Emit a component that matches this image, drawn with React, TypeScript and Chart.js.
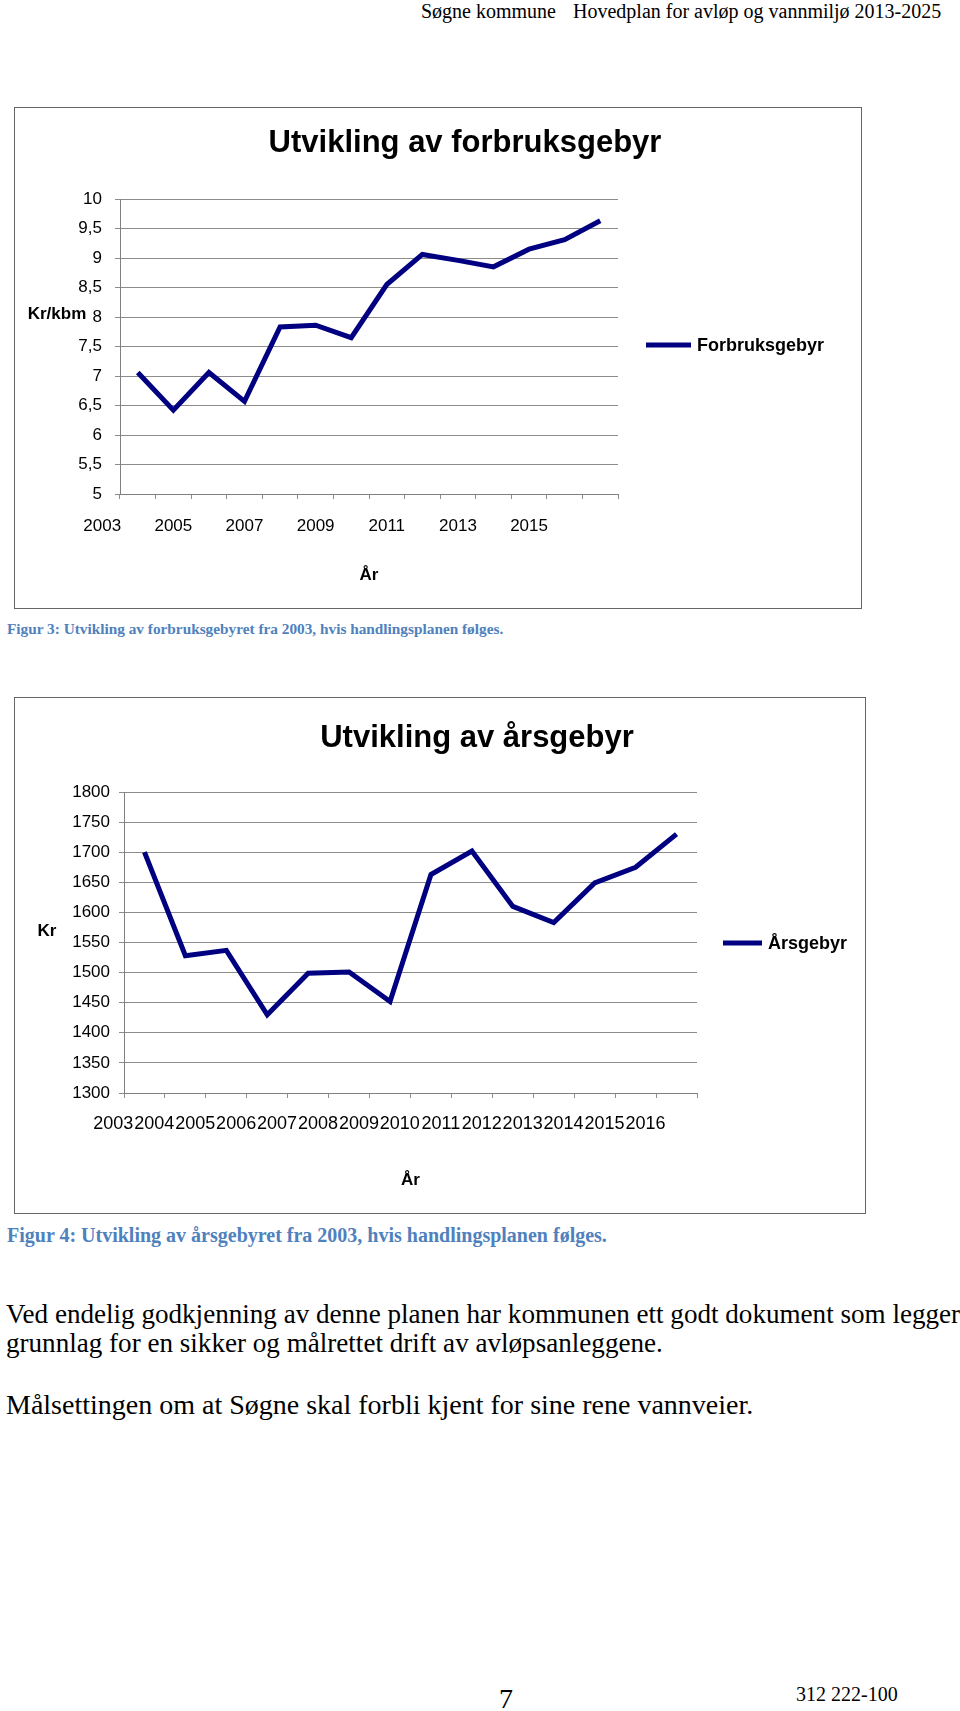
import React, { useEffect, useRef } from 'react';
import { Chart, registerables } from 'chart.js';

Chart.register(...registerables);

// ---------- data ----------
const YEARS = ['2003', '2004', '2005', '2006', '2007', '2008', '2009', '2010', '2011', '2012', '2013', '2014', '2015', '2016'];
const FORBRUKSGEBYR = [7.06, 6.42, 7.06, 6.57, 7.83, 7.86, 7.65, 8.55, 9.06, 8.96, 8.85, 9.15, 9.31, 9.63];
const AARSGEBYR = [1700, 1528, 1537, 1430, 1499, 1501, 1452, 1663, 1702, 1610, 1583, 1649, 1675, 1730];
const X_TICKS_1 = ['2003', '2005', '2007', '2009', '2011', '2013', '2015'];
const X_TICKS_2 = YEARS;
const Y_RANGE_1 = { min: 5, max: 10, step: 0.5 };
const Y_RANGE_2 = { min: 1300, max: 1800, step: 50 };

// ---------- styles ----------
const SANS = "'Liberation Sans', Arial, Helvetica, sans-serif";
const SERIF = "'Liberation Serif', 'Times New Roman', Times, serif";
const LINE_COLOR = '#000080';
const GRID_COLOR = '#8c8c8c';
const AXIS_COLOR = '#808080';
const CAPTION_COLOR = '#4F81BD';

type Geo = {
  boxLeft: number; boxTop: number; boxW: number; boxH: number;
  yWidth: number; padRight: number; padTop: number; xHeight: number; yTickPad: number;
  title: string; titleX: number; titleY: number;
  yTitle: string; yTitleX: number; yTitleY: number;
  xTitle: string; xTitleY: number;
  xTicks: string[]; xTickY: number; xShift: number; xTickSize: number;
  legX1: number; legX2: number; legY: number; legTextX: number;
  label: string; values: number[]; yr: { min: number; max: number; step: number };
};

const G1: Geo = {
  boxLeft: 14, boxTop: 107, boxW: 848, boxH: 502,
  yWidth: 105, padRight: 243, padTop: 91, xHeight: 114, yTickPad: 13,
  title: 'Utvikling av forbruksgebyr', titleX: 450, titleY: 44,
  yTitle: 'Kr/kbm', yTitleX: 42, yTitleY: 206,
  xTitle: 'År', xTitleY: 467,
  xTicks: X_TICKS_1, xTickY: 418, xShift: -1, xTickSize: 17,
  legX1: 631, legX2: 676, legY: 237, legTextX: 682,
  label: 'Forbruksgebyr', values: FORBRUKSGEBYR, yr: Y_RANGE_1,
};

const G2: Geo = {
  boxLeft: 14, boxTop: 697, boxW: 852, boxH: 517,
  yWidth: 109, padRight: 168, padTop: 94, xHeight: 120, yTickPad: 9,
  title: 'Utvikling av årsgebyr', titleX: 462, titleY: 49,
  yTitle: 'Kr', yTitleX: 32, yTitleY: 233,
  xTitle: 'År', xTitleY: 482,
  xTicks: X_TICKS_2, xTickY: 426, xShift: -0.76, xTickSize: 18,
  legX1: 708, legX2: 747, legY: 245, legTextX: 753,
  label: 'Årsgebyr', values: AARSGEBYR, yr: Y_RANGE_2,
};

function overlayPlugin(g: Geo) {
  return {
    id: 'overlay',
    afterDraw(chart: any) {
      const ctx = chart.ctx as CanvasRenderingContext2D;
      const xs = chart.scales.x;
      const area = chart.chartArea;
      ctx.save();
      ctx.fillStyle = '#000';
      // title
      ctx.font = `bold 31px ${SANS}`;
      ctx.textAlign = 'center';
      ctx.textBaseline = 'alphabetic';
      ctx.fillText(g.title, g.titleX, g.titleY);
      // x tick labels
      ctx.font = `${g.xTickSize}px ${SANS}`;
      ctx.textBaseline = 'middle';
      g.xTicks.forEach((t) => {
        const i = chart.data.labels.indexOf(t);
        ctx.fillText(t, xs.getPixelForValue(i + g.xShift), g.xTickY);
      });
      // axis titles
      ctx.font = `bold 17px ${SANS}`;
      ctx.fillText(g.xTitle, (area.left + area.right) / 2, g.xTitleY);
      ctx.fillText(g.yTitle, g.yTitleX, g.yTitleY);
      // legend
      const ds = chart.data.datasets[0];
      ctx.strokeStyle = ds.borderColor;
      ctx.lineWidth = 5;
      ctx.beginPath();
      ctx.moveTo(g.legX1, g.legY);
      ctx.lineTo(g.legX2, g.legY);
      ctx.stroke();
      ctx.font = `bold 18px ${SANS}`;
      ctx.textAlign = 'left';
      ctx.fillText(ds.label, g.legTextX, g.legY + 1);
      ctx.restore();
    },
  };
}

function LineChartBox({ g }: { g: Geo }) {
  const ref = useRef<HTMLCanvasElement>(null);
  const cw = g.boxW - 2;
  const ch = g.boxH - 2;
  useEffect(() => {
    if (!ref.current) return;
    const chart = new Chart(ref.current, {
      type: 'line',
      data: {
        labels: YEARS,
        datasets: [
          {
            label: g.label,
            data: g.values,
            borderColor: LINE_COLOR,
            backgroundColor: LINE_COLOR,
            borderWidth: 5,
            pointRadius: 0,
            pointHoverRadius: 0,
            tension: 0,
            fill: false,
          },
        ],
      },
      options: {
        animation: false,
        responsive: false,
        maintainAspectRatio: false,
        devicePixelRatio: 1,
        events: [],
        layout: { padding: { left: 0, right: g.padRight, top: g.padTop, bottom: 0 } },
        plugins: { legend: { display: false }, title: { display: false }, tooltip: { enabled: false } },
        scales: {
          x: {
            type: 'category',
            offset: true,
            grid: {
              display: true,
              drawOnChartArea: false,
              drawTicks: true,
              tickLength: 5,
              offset: true,
              color: GRID_COLOR,
            },
            border: { display: true, color: AXIS_COLOR },
            ticks: { display: false },
            afterFit: (s: any) => {
              s.height = g.xHeight;
            },
          },
          y: {
            min: g.yr.min,
            max: g.yr.max,
            ticks: {
              stepSize: g.yr.step,
              color: '#000',
              padding: g.yTickPad,
              font: { family: SANS, size: 17 },
              callback: (v: any) => String(v).replace('.', ','),
            },
            grid: { color: GRID_COLOR, tickLength: 5, drawTicks: true },
            border: { display: true, color: AXIS_COLOR },
            afterFit: (s: any) => {
              s.width = g.yWidth;
            },
          },
        },
      },
      plugins: [overlayPlugin(g)],
    } as any);
    return () => chart.destroy();
  }, [g]);
  return (
    <div
      style={{
        position: 'absolute',
        left: g.boxLeft,
        top: g.boxTop,
        width: g.boxW,
        height: g.boxH,
        boxSizing: 'border-box',
        border: '1px solid #666',
        background: '#fff',
      }}
    >
      <canvas ref={ref} width={cw} height={ch} style={{ display: 'block', width: cw, height: ch }} />
    </div>
  );
}

function T({
  x, baseline, size, text, bold, color,
}: { x: number; baseline: number; size: number; text: string; bold?: boolean; color?: string }) {
  return (
    <div
      style={{
        position: 'absolute',
        left: x,
        top: baseline - 0.891 * size,
        fontFamily: SERIF,
        fontSize: size,
        lineHeight: 'normal',
        fontWeight: bold ? 'bold' : 'normal',
        color: color || '#000',
        whiteSpace: 'nowrap',
      }}
    >
      {text}
    </div>
  );
}

export default function App() {
  return (
    <div
      style={{
        position: 'absolute',
        left: 0,
        top: 0,
        width: 960,
        height: 1711,
        overflow: 'hidden',
        background: '#fff',
      }}
    >
      <T x={421} baseline={18} size={20} text="Søgne kommune" />
      <T x={573} baseline={18} size={20} text="Hovedplan for avløp og vannmiljø 2013-2025" />
      <LineChartBox g={G1} />
      <T x={7} baseline={634} size={15.3} bold color={CAPTION_COLOR}
        text="Figur 3: Utvikling av forbruksgebyret fra 2003, hvis handlingsplanen følges." />
      <LineChartBox g={G2} />
      <T x={7} baseline={1242} size={20} bold color={CAPTION_COLOR}
        text="Figur 4: Utvikling av årsgebyret fra 2003, hvis handlingsplanen følges." />
      <T x={6} baseline={1323} size={27.1}
        text="Ved endelig godkjenning av denne planen har kommunen ett godt dokument som legger" />
      <T x={6} baseline={1352} size={27.1}
        text="grunnlag for en sikker og målrettet drift av avløpsanleggene." />
      <T x={6} baseline={1414} size={28}
        text="Målsettingen om at Søgne skal forbli kjent for sine rene vannveier." />
      <T x={499} baseline={1708} size={28} text="7" />
      <T x={796} baseline={1701} size={20} text="312 222-100" />
    </div>
  );
}
